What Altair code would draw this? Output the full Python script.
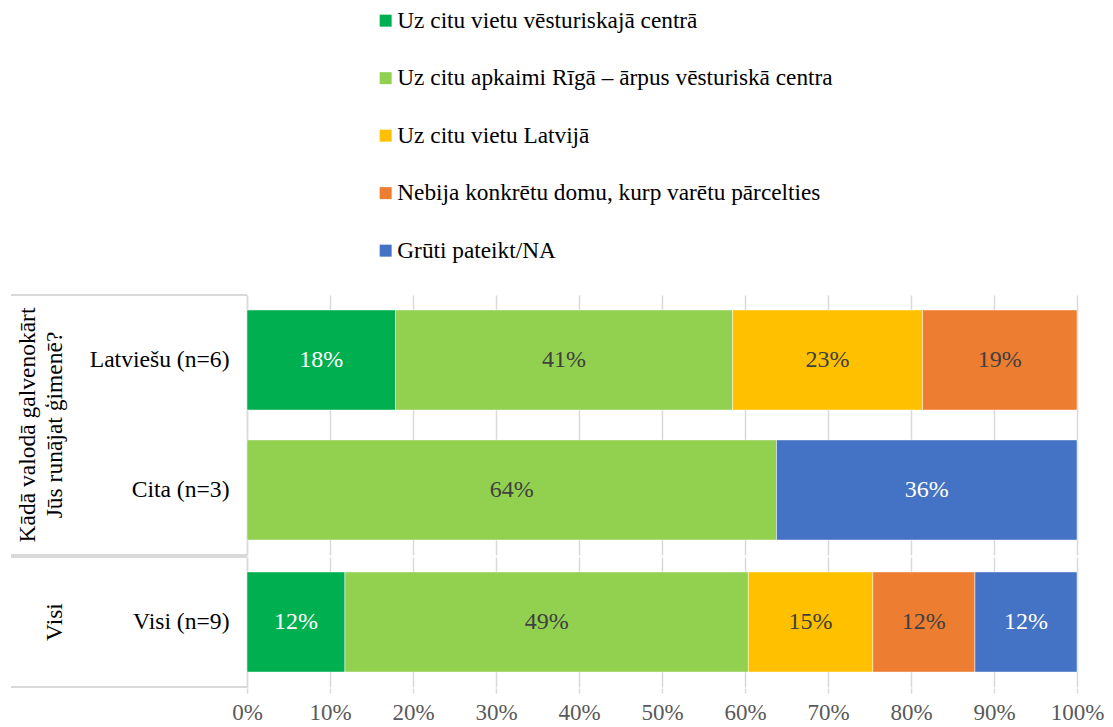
import altair as alt
import pandas as pd

FONT = "Liberation Serif"

series = [
    "Uz citu vietu vēsturiskajā centrā",
    "Uz citu apkaimi Rīgā – ārpus vēsturiskā centra",
    "Uz citu vietu Latvijā",
    "Nebija konkrētu domu, kurp varētu pārcelties",
    "Grūti pateikt/NA",
]
colors = ["#00B050", "#92D050", "#FFC000", "#ED7D31", "#4472C4"]

groups = ["Kādā valodā galvenokārt|Jūs runājat ģimenē?", "Visi"]
rows = ["Latviešu (n=6)", "Cita (n=3)", "Visi (n=9)"]
row_group = [groups[0], groups[0], groups[1]]

latviesu = [17.9, 40.6, 22.9, 18.6, 0.0]
cita = [0.0, 63.8, 0.0, 0.0, 36.2]
visi = [11.8, 48.6, 15.0, 12.3, 12.3]
values = [latviesu, cita, visi]

records = []
for r, g, vals in zip(rows, row_group, values):
    for i, (s, v) in enumerate(zip(series, vals)):
        if v > 0:
            records.append({"group": g, "row": r, "series": s, "order": i, "value": v})
df = pd.DataFrame(records)

color_scale = alt.Scale(domain=series, range=colors)

y_enc = alt.Y(
    "row:N",
    sort=rows,
    title=None,
    scale=alt.Scale(paddingInner=0.23, paddingOuter=0.115),
    axis=alt.Axis(
        labelFont=FONT, labelFontSize=23.6, labelColor="#000000",
        ticks=False, labelPadding=18, domainColor="#d9d9d9", domainWidth=1.5,
        grid=False,
    ),
)

x_axis = alt.Axis(
    values=list(range(0, 101, 10)),
    labelExpr="datum.value + '%'",
    labelFont=FONT, labelFontSize=23, labelColor="#595959",
    labelFlush=False, labelOverlap=False,
    grid=True, gridColor="#d9d9d9", gridWidth=1.5,
    domain=False, ticks=True, tickSize=5, tickColor="#d9d9d9", tickWidth=1.5,
    labelPadding=8, title=None,
)

bars = alt.Chart().mark_bar(stroke="#ffffff", strokeWidth=0.8, strokeOpacity=0.6).encode(
    x=alt.X("value:Q", stack="zero", scale=alt.Scale(domain=[0, 100]), axis=x_axis),
    y=y_enc,
    color=alt.Color(
        "series:N", scale=color_scale, sort=series,
        legend=alt.Legend(
            title=None, orient="none", legendX=127, legendY=-286,
            direction="vertical", symbolType="square", symbolSize=144,
            symbolStrokeWidth=0, labelFont=FONT, labelFontSize=23.3,
            labelColor="#000000", rowPadding=33.5, labelOffset=0,
            labelLimit=700,
        ),
    ),
    order=alt.Order("order:Q"),
)

labels = alt.Chart().transform_stack(
    stack="value", groupby=["row"], sort=[alt.SortField("order")], as_=["x0", "x1"]
).transform_calculate(
    mid="(datum.x0 + datum.x1) / 2",
    lbl="format(datum.value / 100, '.0%')",
).mark_text(font=FONT, fontSize=24, baseline="middle", align="center").encode(
    x=alt.X("mid:Q"),
    y=alt.Y("row:N", sort=rows),
    text="lbl:N",
    color=alt.condition(
        alt.FieldOneOfPredicate(field="series", oneOf=[series[0], series[4]]),
        alt.value("#ffffff"),
        alt.value("#404040"),
    ),
)

top_rule = alt.Chart().mark_rule(color="#d9d9d9", strokeWidth=1.5).encode(
    x=alt.value(-236), x2=alt.value(0), y=alt.value(0)
)
bottom_rule = alt.Chart().mark_rule(color="#d9d9d9", strokeWidth=1.5).encode(
    x=alt.value(-236), x2=alt.value(0), y=alt.value("height")
)

layered = alt.layer(bars, labels, top_rule, bottom_rule).properties(
    width=830, height=alt.Step(130)
)

chart = alt.FacetChart(
    data=df,
    spec=layered,
    facet=alt.Facet(
        "group:N", sort=groups,
        header=alt.Header(
            title=None, labelOrient="left", labelAngle=-90,
            labelFont=FONT, labelFontSize=23.5, labelColor="#000000",
            labelExpr="split(datum.value, '|')", labelPadding=-68,
            labelLineHeight=27,
        ),
    ),
    columns=1,
    spacing=0,
).resolve_scale(y="independent").configure_view(stroke=None).properties(
    padding={"left": 2, "top": 1, "right": 0, "bottom": 0}
)

chart.save("out.html", embed_options={"renderer": "svg", "actions": False})
